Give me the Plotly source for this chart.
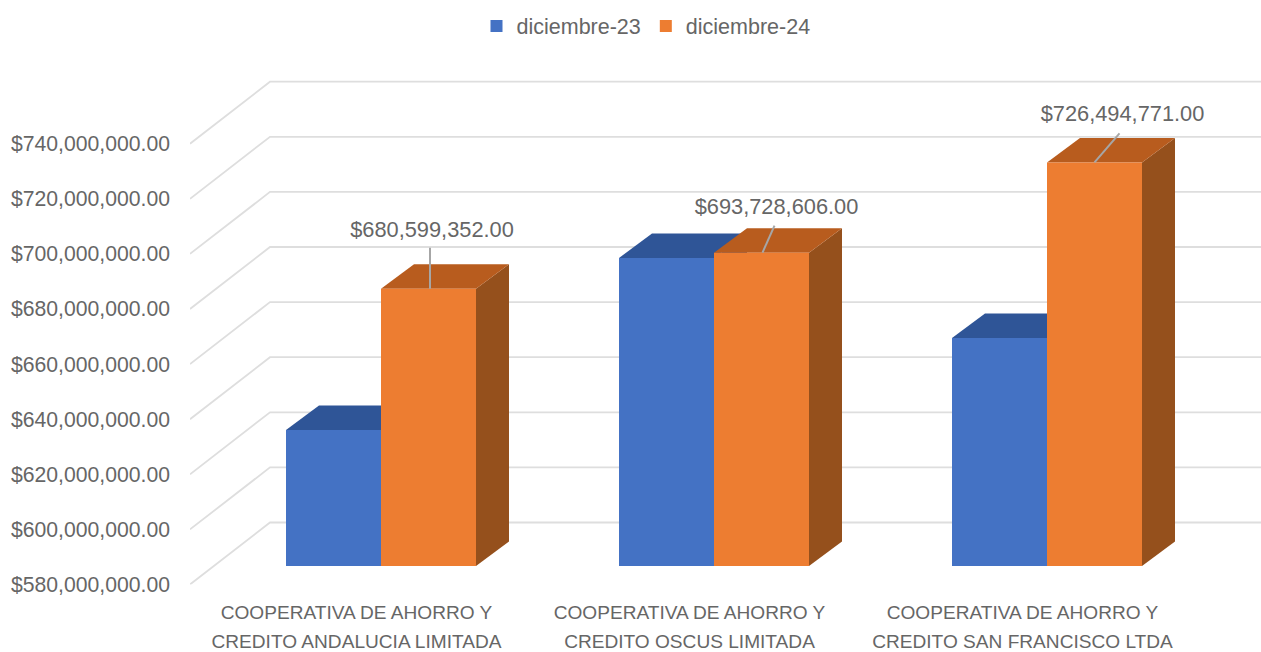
import plotly.graph_objects as go

# ---- data ----
line1 = ["COOPERATIVA DE AHORRO Y"] * 3
line2 = ["CREDITO ANDALUCIA LIMITADA", "CREDITO OSCUS LIMITADA", "CREDITO SAN FRANCISCO LTDA"]
series_names = ["diciembre-23", "diciembre-24"]
dic23 = [629400000, 691800000, 662800000]
dic24 = [680599352, 693728606, 726494771]
tick_values = [580000000 + 20000000 * k for k in range(9)]

# ---- style / geometry ----
W, H = 1261, 652
TXT = "#666666"
FONT = "Liberation Sans"
BLUE, BLUE_TOP = "#4472C4", "#2F5597"
ORANGE, ORANGE_TOP, ORANGE_SIDE = "#ED7D31", "#B85C1E", "#95501C"
GRID = "#DEDEDE"
CAT_PX = 333.0
PX_PER_VAL = 2.755e-6
LEFT, TOP = 190.0, 60.0
AX_BOTTOM, BAR_BOTTOM = 584.5, 566.0
BAR_SHIFT_X, BAR_SHIFT_Y = 24.5, AX_BOTTOM - BAR_BOTTOM
DEPTH_X, DEPTH_Y = 33.0, 24.5
WALL_X, WALL_Y = 80.0, 62.0
BAR_W = 95.0 / CAT_PX
BASE = tick_values[0]

def ax_x(px):
    return px / CAT_PX

def ax_y(px):
    return px / PX_PER_VAL

x1_range = [-0.5, (W - LEFT) / CAT_PX - 0.5]
y1_range = [BASE, BASE + ax_y(AX_BOTTOM - TOP)]
x2_range = [-0.5, (W - LEFT - BAR_SHIFT_X) / CAT_PX - 0.5]
y2_range = [BASE, BASE + ax_y(BAR_BOTTOM - TOP)]

def proj(xb, v, d):
    """bar-plane point at depth d (0 front, 1 back) expressed on the main axes"""
    return xb + ax_x(BAR_SHIFT_X + DEPTH_X * d), v + ax_y(BAR_SHIFT_Y + DEPTH_Y * d)

def poly(points, color):
    return go.Scatter(x=[p[0] for p in points], y=[p[1] for p in points], mode="lines",
                      fill="toself", fillcolor=color, line=dict(width=0, color=color),
                      hoverinfo="skip", showlegend=False, xaxis="x", yaxis="y")

fig = go.Figure()

# walls and floor lines
gx, gy = [], []
for t in tick_values:
    gx += [x1_range[0], x1_range[0] + ax_x(WALL_X), x1_range[1] + 1, None]
    gy += [t, t + ax_y(WALL_Y), t + ax_y(WALL_Y), None]
fig.add_trace(go.Scatter(x=gx, y=gy, mode="lines", line=dict(color=GRID, width=1.8),
                         hoverinfo="skip", showlegend=False, xaxis="x", yaxis="y"))

# depth faces
for vals, off, top_c, side_c in [(dic23, -BAR_W, BLUE_TOP, BLUE_TOP), (dic24, 0.0, ORANGE_TOP, ORANGE_SIDE)]:
    for i, v in enumerate(vals):
        xl, xr = i + off, i + off + BAR_W
        fig.add_trace(poly([proj(xr, BASE, 0), proj(xr, BASE, 1), proj(xr, v, 1), proj(xr, v, 0)], side_c))
        fig.add_trace(poly([proj(xl, v, 0), proj(xr, v, 0), proj(xr, v, 1), proj(xl, v, 1)], top_c))

# front faces
cats = [0, 1, 2]
fig.add_trace(go.Bar(x=cats, y=dic23, name=series_names[0], marker=dict(color=BLUE, line=dict(width=0)),
                     xaxis="x2", yaxis="y2", hoverinfo="skip"))
fig.add_trace(go.Bar(x=cats, y=dic24, name=series_names[1], marker=dict(color=ORANGE, line=dict(width=0)),
                     xaxis="x2", yaxis="y2", hoverinfo="skip"))

# leader lines and labels (offsets in px from the centre of each orange bar top)
leader_start = [(1.5, 0), (1, 0), (0, 0)]
leader_end = [(1.5, 41), (13, 27), (25, 29)]
label_off = [(3.5, 57), (15, 44), (28, 47)]
ox = [i + BAR_W / 2 for i in cats]
lx, ly = [], []
for i in cats:
    lx += [ox[i] + ax_x(leader_start[i][0]), ox[i] + ax_x(leader_end[i][0]), None]
    ly += [dic24[i], dic24[i] + ax_y(leader_end[i][1]), None]
fig.add_trace(go.Scatter(x=lx, y=ly, mode="lines", line=dict(color="#A6A6A6", width=2),
                         hoverinfo="skip", showlegend=False, xaxis="x2", yaxis="y2"))
fig.add_trace(go.Scatter(x=[ox[i] + ax_x(label_off[i][0]) for i in cats],
                         y=[dic24[i] + ax_y(label_off[i][1]) for i in cats],
                         mode="text", text=[f"${v:,.2f}" for v in dic24], textposition="middle center",
                         textfont=dict(family=FONT, size=21.8, color=TXT), cliponaxis=False,
                         hoverinfo="skip", showlegend=False, xaxis="x2", yaxis="y2"))

# carrier for the second line of category labels
fig.add_trace(go.Scatter(x=cats, y=[BASE] * 3, mode="markers", marker=dict(opacity=0, size=1),
                         hoverinfo="skip", showlegend=False, xaxis="x3", yaxis="y"))

dom_x = [LEFT / W, 1.0]
dom_y = [(H - AX_BOTTOM) / H, (H - TOP) / H]
dom_x2 = [(LEFT + BAR_SHIFT_X) / W, 1.0]
dom_y2 = [(H - BAR_BOTTOM) / H, (H - TOP) / H]

fig.update_layout(
    width=W, height=H, margin=dict(l=0, r=0, t=0, b=0),
    paper_bgcolor="white", plot_bgcolor="rgba(0,0,0,0)",
    barmode="group", bargap=1 - 2 * BAR_W, bargroupgap=0,
    font=dict(family=FONT, color=TXT, size=20),
    legend=dict(orientation="h", x=646 / W, xanchor="center",
                y=1 - 26 / H, yanchor="middle",
                font=dict(family=FONT, size=21.5, color=TXT), bgcolor="rgba(0,0,0,0)"),
    xaxis=dict(domain=dom_x, range=x1_range, tickmode="array", tickvals=cats, ticktext=line1,
               automargin=False, showgrid=False, zeroline=False, showline=False, ticks="", anchor="y",
               ticklabelstandoff=14, tickfont=dict(family=FONT, size=19.1, color=TXT)),
    xaxis3=dict(domain=dom_x, range=x1_range, tickmode="array", tickvals=cats, ticktext=line2,
                automargin=False, showgrid=False, zeroline=False, showline=False, ticks="", anchor="y",
                overlaying="x", ticklabelstandoff=43, tickfont=dict(family=FONT, size=19.1, color=TXT)),
    yaxis=dict(domain=dom_y, range=y1_range, tickmode="array", tickvals=tick_values, tickformat="$,.2f",
               automargin=False, showgrid=False, zeroline=False, showline=False, ticks="", anchor="x",
               ticklabelstandoff=19, tickfont=dict(family=FONT, size=21.2, color=TXT)),
    xaxis2=dict(domain=dom_x2, range=x2_range, visible=False, anchor="y2", automargin=False),
    yaxis2=dict(domain=dom_y2, range=y2_range, visible=False, anchor="x2", automargin=False),
)

fig.write_html("out.html", config={"displayModeBar": False}, post_script="document.body.style.margin='0';")
